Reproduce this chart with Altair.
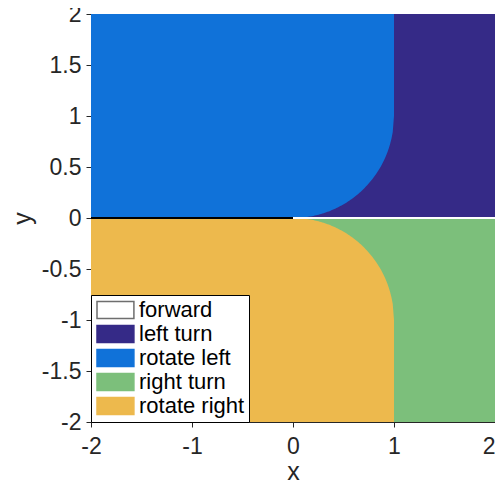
import altair as alt
import numpy as np
import pandas as pd

# region labels and colours
regions = ["forward", "left turn", "rotate left", "right turn", "rotate right"]
fills = ["#ffffff", "#352A87", "#1072D9", "#7CBF7B", "#EDB94D"]
edges = ["#6e6e6e", "#352A87", "#1072D9", "#7CBF7B", "#EDB94D"]

# rectangular regions
rect_region = ["rotate left", "rotate right", "left turn", "right turn"]
rect_x = [-2, -2, 1, 1]
rect_x2 = [2, 2, 2, 2]
rect_y = [0, -2, 0, -2]
rect_y2 = [2, 0, 2, 0]

# turning radius of the quarter-circle boundary
turn_radius = 1.0

# line along y = 0
line_x = [-2, 0]
line_x2 = [0, 2]
line_color = ["black", "white"]

# axis ticks
x_ticks = [-2, -1, 0, 1, 2]
y_ticks = [-2, -1.5, -1, -0.5, 0, 0.5, 1, 1.5, 2]

rects = pd.DataFrame({"region": rect_region, "x": rect_x, "x2": rect_x2, "y": rect_y, "y2": rect_y2})

xs = np.linspace(0, turn_radius, 80)
curve = turn_radius - np.sqrt(turn_radius**2 - xs**2)
areas = pd.concat([
    pd.DataFrame({"region": "left turn", "x": xs, "y": 0.0, "y2": curve}),
    pd.DataFrame({"region": "right turn", "x": xs, "y": -curve, "y2": 0.0}),
])
lines = pd.DataFrame({"x": line_x, "x2": line_x2, "c": line_color})

xscale = alt.Scale(domain=[-2, 2], nice=False, zero=False)
yscale = alt.Scale(domain=[-2, 2], nice=False, zero=False)
cscale = alt.Scale(domain=regions, range=fills)
sscale = alt.Scale(domain=regions, range=edges)

legend = alt.Legend(
    title=None, orient="bottom-left", offset=0, padding=4,
    fillColor="white", strokeColor="black",
    symbolType="M-1,-0.95H3.1V0.95H-1Z", symbolSize=324,
    symbolStrokeWidth=1.5, symbolOpacity=1,
    labelFontSize=22, labelFont="Liberation Sans", labelColor="black",
    labelOffset=22, rowPadding=0,
)

xaxis = alt.Axis(values=x_ticks, title="x", labelExpr="toString(datum.value)",
                 labelAlign=alt.ExprRef(expr="datum.value == 2 ? 'right' : 'center'"),
                 labelPadding=8, titlePadding=1)
yaxis = alt.Axis(values=y_ticks, title="y",
                 labelExpr="toString(datum.value)", labelPadding=5, titlePadding=6)

rect_layer = alt.Chart(rects).mark_rect(strokeWidth=0).encode(
    x=alt.X("x:Q", scale=xscale, axis=xaxis),
    x2="x2:Q",
    y=alt.Y("y:Q", scale=yscale, axis=yaxis),
    y2="y2:Q",
    color=alt.Color("region:N", scale=cscale, legend=legend),
    stroke=alt.Stroke("region:N", scale=sscale, legend=legend),
)

area_layer = alt.Chart(areas).mark_area(opacity=1).encode(
    x="x:Q",
    y="y:Q",
    y2="y2:Q",
    color=alt.Color("region:N", scale=cscale, legend=legend),
    detail="region:N",
)

line_layer = alt.Chart(lines).mark_rule(strokeWidth=2).encode(
    x="x:Q",
    x2="x2:Q",
    y=alt.datum(0),
    color=alt.Color("c:N", scale=None),
)

chart = alt.layer(rect_layer, area_layer, line_layer).properties(
    width=404, height=408,
    autosize=alt.AutoSizeParams(type="none"),
    padding={"left": 83, "top": 6, "right": 0, "bottom": 60},
).configure_view(stroke=None).configure_axis(
    grid=False, labelFontSize=23, titleFontSize=25, labelFont="Liberation Sans",
    titleFont="Liberation Sans", titleFontWeight="normal",
    labelColor="#262626", titleColor="#262626", domainColor="#262626", tickColor="#262626",
    tickSize=5,
)

chart.save("out.html", embed_options={"renderer": "svg", "actions": False})
